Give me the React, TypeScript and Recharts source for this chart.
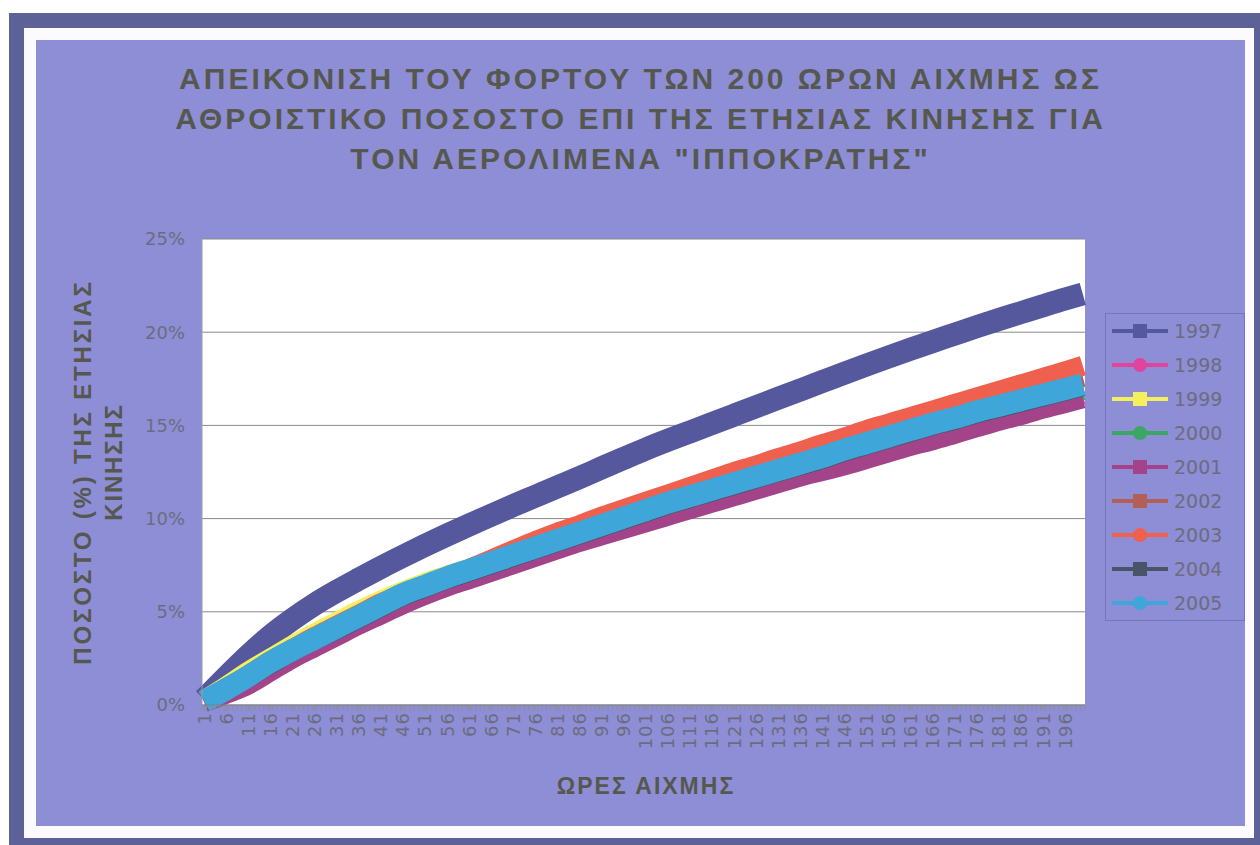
import { LineChart, Line, XAxis, YAxis, CartesianGrid, Legend } from "recharts";

// Peak hours sampled every 5th hour, plus the last one
const hours = [
  1, 6, 11, 16, 21, 26, 31, 36, 41, 46, 51, 56, 61, 66, 71, 76, 81, 86, 91, 96,
  101, 106, 111, 116, 121, 126, 131, 136, 141, 146, 151, 156, 161, 166, 171, 176,
  181, 186, 191, 196, 200,
];

// Labels under the category axis
const hourLabels = [
  1, 6, 11, 16, 21, 26, 31, 36, 41, 46, 51, 56, 61, 66, 71, 76, 81, 86, 91, 96,
  101, 106, 111, 116, 121, 126, 131, 136, 141, 146, 151, 156, 161, 166, 171, 176,
  181, 186, 191, 196,
];

const percentTicks = [0, 5, 10, 15, 20, 25];

const years = ["1997", "1998", "1999", "2000", "2001", "2002", "2003", "2004", "2005"];

// cumulative share of yearly traffic (%)
const y1997 = [
  0.3, 1.5, 2.65, 3.7, 4.6, 5.4, 6.1, 6.75, 7.38, 7.98, 8.56, 9.12, 9.66, 10.18,
  10.7, 11.2, 11.7, 12.2, 12.72, 13.23, 13.73, 14.2, 14.65, 15.1, 15.55, 16.0,
  16.45, 16.9, 17.35, 17.8, 18.24, 18.67, 19.09, 19.5, 19.9, 20.3, 20.68, 21.05,
  21.42, 21.78, 22.05,
];
const y1998 = [
  0.15, 0.7, 1.3, 1.95, 2.65, 3.25, 3.85, 4.45, 5.0, 5.55, 6.0, 6.45, 6.9, 7.3,
  7.7, 8.1, 8.5, 8.9, 9.3, 9.65, 10.0, 10.4, 10.75, 11.1, 11.45, 11.8, 12.15,
  12.5, 12.85, 13.2, 13.55, 13.85, 14.2, 14.5, 14.85, 15.15, 15.5, 15.8, 16.1,
  16.4, 16.65,
];
const y1999 = [
  0.25, 1.0, 1.8, 2.5, 3.2, 3.85, 4.45, 5.05, 5.6, 6.1, 6.55, 6.95, 7.3, 7.7,
  8.1, 8.5, 8.9, 9.3, 9.7, 10.1, 10.5, 10.9, 11.3, 11.65, 12.0, 12.35, 12.7,
  13.05, 13.4, 13.75, 14.1, 14.45, 14.8, 15.15, 15.5, 15.85, 16.2, 16.55, 16.9,
  17.25, 17.5,
];
const y2000 = [
  0.2, 0.8, 1.45, 2.1, 2.8, 3.4, 3.95, 4.55, 5.1, 5.65, 6.1, 6.55, 7.0, 7.4,
  7.8, 8.2, 8.6, 9.0, 9.4, 9.8, 10.2, 10.55, 10.9, 11.3, 11.65, 12.0, 12.35,
  12.7, 13.05, 13.4, 13.75, 14.1, 14.4, 14.75, 15.1, 15.4, 15.75, 16.05, 16.35,
  16.65, 16.9,
];
const y2001 = [
  0.15, 0.6, 1.1, 1.8, 2.5, 3.1, 3.7, 4.3, 4.85, 5.4, 5.9, 6.35, 6.75, 7.15,
  7.55, 7.95, 8.35, 8.75, 9.1, 9.45, 9.8, 10.15, 10.5, 10.85, 11.2, 11.55, 11.9,
  12.25, 12.55, 12.85, 13.2, 13.55, 13.9, 14.2, 14.55, 14.9, 15.25, 15.55, 15.9,
  16.2, 16.45,
];
const y2002 = [
  0.2, 0.9, 1.55, 2.3, 2.95, 3.6, 4.2, 4.8, 5.35, 5.9, 6.35, 6.8, 7.25, 7.7,
  8.15, 8.55, 9.0, 9.4, 9.8, 10.2, 10.6, 11.0, 11.4, 11.75, 12.15, 12.5, 12.85,
  13.2, 13.55, 13.9, 14.3, 14.65, 15.0, 15.35, 15.65, 16.0, 16.35, 16.7, 17.0,
  17.35, 17.6,
];
const y2003 = [
  0.2, 0.9, 1.6, 2.35, 3.0, 3.65, 4.25, 4.85, 5.45, 5.95, 6.4, 6.85, 7.3, 7.8,
  8.3, 8.8, 9.25, 9.65, 10.1, 10.5, 10.9, 11.3, 11.7, 12.1, 12.5, 12.85, 13.25,
  13.6, 14.0, 14.35, 14.75, 15.1, 15.45, 15.8, 16.15, 16.5, 16.85, 17.2, 17.55,
  17.9, 18.2,
];
const y2004 = [
  0.2, 0.85, 1.5, 2.2, 2.9, 3.5, 4.05, 4.65, 5.25, 5.85, 6.3, 6.75, 7.15, 7.55,
  7.95, 8.35, 8.75, 9.15, 9.55, 9.95, 10.35, 10.75, 11.1, 11.45, 11.8, 12.15,
  12.5, 12.85, 13.2, 13.6, 13.95, 14.3, 14.65, 15.0, 15.3, 15.65, 15.95, 16.25,
  16.55, 16.85, 17.1,
];
const y2005 = [
  0.2, 0.85, 1.55, 2.3, 2.95, 3.55, 4.15, 4.75, 5.35, 5.95, 6.4, 6.85, 7.25,
  7.65, 8.05, 8.45, 8.85, 9.25, 9.65, 10.05, 10.45, 10.85, 11.2, 11.55, 11.9,
  12.25, 12.6, 12.95, 13.3, 13.7, 14.05, 14.4, 14.75, 15.1, 15.4, 15.75, 16.05,
  16.35, 16.65, 16.95, 17.2,
];

const seriesValues = [y1997, y1998, y1999, y2000, y2001, y2002, y2003, y2004, y2005];

const data = hours.map((hour, i) => {
  const row: Record<string, number> = { hour };
  years.forEach((year, s) => {
    row[year] = seriesValues[s][i];
  });
  return row;
});

// Category boundaries for the small tick marks along the axis
const categoryEdges = Array.from({ length: 201 }, (_, i) => i + 0.5);
const xTicks = [...categoryEdges, ...hourLabels].sort((a, b) => a - b);

const lineColor: Record<string, string> = {
  "1997": "#55589c",
  "1998": "#e0449c",
  "1999": "#f2f05c",
  "2000": "#3aa862",
  "2001": "#a3448a",
  "2002": "#b25f56",
  "2003": "#f0604e",
  "2004": "#4a5468",
  "2005": "#3fa6da",
};

const lineWidth: Record<string, number> = {
  "1997": 23,
  "2005": 22,
};

const squareMarker: Record<string, boolean> = {
  "1997": true,
  "1998": false,
  "1999": true,
  "2000": false,
  "2001": true,
  "2002": true,
  "2003": false,
  "2004": true,
  "2005": false,
};

const BOLD_FONT = "'Liberation Sans', Arial, sans-serif";
const TICK_FONT = "'DejaVu Sans', Verdana, sans-serif";
const TITLE_COLOR = "#56584f";
const TICK_COLOR = "#6c6c7e";

const HourTick = (props: any) => {
  const { x, y, payload } = props;
  if (!hourLabels.includes(payload.value)) return <g />;
  return (
    <text
      x={x}
      y={y}
      transform={`rotate(-90, ${x}, ${y})`}
      textAnchor="end"
      dominantBaseline="central"
      fill={TICK_COLOR}
      fontSize={18}
      letterSpacing={1}
      fontFamily={TICK_FONT}
    >
      {payload.value}
    </text>
  );
};

const renderLegend = (props: any) => {
  const { payload } = props;
  return (
    <div
      style={{
        width: 140,
        height: 308,
        boxSizing: "border-box",
        border: "1px solid #7676b6",
      }}
    >
      {payload.map((entry: any) => {
        const c = lineColor[entry.value];
        return (
          <div
            key={entry.value}
            style={{ display: "flex", alignItems: "center", height: 34 }}
          >
            <svg width={66} height={20} style={{ flex: "none" }}>
              <line x1={6} x2={62} y1={10} y2={10} stroke={c} strokeWidth={4} />
              {squareMarker[entry.value] ? (
                <rect x={27} y={3} width={14} height={14} fill={c} />
              ) : (
                <circle cx={34} cy={10} r={7} fill={c} />
              )}
            </svg>
            <span
              style={{
                fontFamily: TICK_FONT,
                fontSize: 19,
                color: TICK_COLOR,
                marginLeft: 2,
              }}
            >
              {entry.value}
            </span>
          </div>
        );
      })}
    </div>
  );
};

export default function App() {
  return (
    <div
      style={{
        position: "absolute",
        left: 0,
        top: 0,
        width: 1260,
        height: 845,
        overflow: "hidden",
        background: "#ffffff",
      }}
    >
      {/* outer dark frame, white border, purple chart area */}
      <div style={{ position: "absolute", left: 9, top: 13, width: 1251, height: 832, background: "#5c6197" }} />
      <div style={{ position: "absolute", left: 24, top: 28, width: 1230, height: 810, background: "#fbfbfe" }} />
      <div style={{ position: "absolute", left: 36, top: 40, width: 1209, height: 786, background: "#8d8ed5" }} />

      {/* chart title */}
      {[
        "ΑΠΕΙΚΟΝΙΣΗ ΤΟΥ ΦΟΡΤΟΥ ΤΩΝ 200 ΩΡΩΝ ΑΙΧΜΗΣ ΩΣ",
        "ΑΘΡΟΙΣΤΙΚΟ ΠΟΣΟΣΤΟ ΕΠΙ ΤΗΣ ΕΤΗΣΙΑΣ ΚΙΝΗΣΗΣ ΓΙΑ",
        "ΤΟΝ ΑΕΡΟΛΙΜΕΝΑ \"ΙΠΠΟΚΡΑΤΗΣ\"",
      ].map((line, i) => (
        <div
          key={i}
          style={{
            position: "absolute",
            left: 36,
            width: 1209,
            top: 64 + i * 40,
            textAlign: "center",
            fontFamily: BOLD_FONT,
            fontWeight: 700,
            fontSize: 30,
            lineHeight: "30px",
            letterSpacing: 3,
            color: TITLE_COLOR,
            whiteSpace: "nowrap",
          }}
        >
          {line}
        </div>
      ))}

      <div style={{ position: "absolute", left: 36, top: 40 }}>
        <LineChart
          width={1209}
          height={786}
          data={data}
          margin={{ top: 199, right: 160, bottom: 61, left: 106 }}
        >
          <CartesianGrid vertical={false} stroke="#8a8a8a" fill="#ffffff" fillOpacity={1} />
          <XAxis
            dataKey="hour"
            type="number"
            domain={[0.5, 200.5]}
            ticks={xTicks}
            interval={0}
            height={60}
            tick={<HourTick />}
            tickSize={6}
            tickMargin={1}
            tickLine={{ stroke: "#8c8ca0" }}
            axisLine={{ stroke: "#808080" }}
          />
          <YAxis
            type="number"
            domain={[0, 25]}
            ticks={percentTicks}
            interval={0}
            width={60}
            tickLine={false}
            tickSize={0}
            tickMargin={17}
            axisLine={{ stroke: "#9a9ab0" }}
            tickFormatter={(v: number) => `${v}%`}
            tick={{ fill: TICK_COLOR, fontSize: 18, fontFamily: TICK_FONT }}
          />
          <Legend
            layout="vertical"
            align="center"
            verticalAlign="middle"
            content={renderLegend}
            wrapperStyle={{ position: "absolute", left: 1069, top: 273, width: 140, height: 308 }}
          />
          {years.map((year) => (
            <Line
              key={year}
              type="monotone"
              dataKey={year}
              name={year}
              stroke={lineColor[year]}
              strokeWidth={lineWidth[year] ?? 20}
              strokeLinejoin="round"
              dot={false}
              activeDot={false}
              isAnimationActive={false}
            />
          ))}
        </LineChart>
      </div>

      {/* axis titles */}
      <svg
        width={1260}
        height={845}
        style={{ position: "absolute", left: 0, top: 0, pointerEvents: "none" }}
      >
        <g fontFamily={BOLD_FONT} fontWeight={700} fill={TITLE_COLOR}>
          <text
            x={82}
            y={472}
            transform="rotate(-90, 82, 472)"
            textAnchor="middle"
            dominantBaseline="central"
            fontSize={24}
            letterSpacing={2.8}
          >
            ΠΟΣΟΣΤΟ (%) ΤΗΣ ΕΤΗΣΙΑΣ
          </text>
          <text
            x={113}
            y={462}
            transform="rotate(-90, 113, 462)"
            textAnchor="middle"
            dominantBaseline="central"
            fontSize={24}
            letterSpacing={1.8}
          >
            ΚΙΝΗΣΗΣ
          </text>
          <text
            x={646}
            y={786}
            textAnchor="middle"
            dominantBaseline="central"
            fontSize={23}
            letterSpacing={2}
          >
            ΩΡΕΣ ΑΙΧΜΗΣ
          </text>
        </g>
      </svg>
    </div>
  );
}
